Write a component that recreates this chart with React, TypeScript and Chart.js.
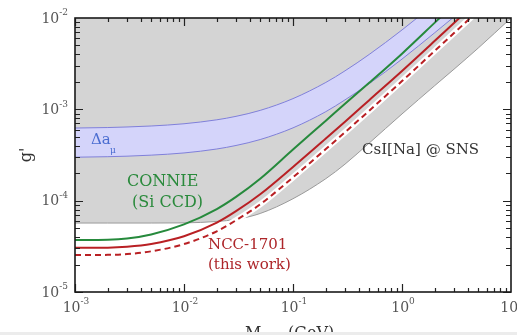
import { useEffect, useRef } from "react";
import { Chart, registerables } from "chart.js";

Chart.register(...registerables);

// Z' mass grid in GeV shared by every curve
const massGrid = [0.001, 0.002, 0.003, 0.005, 0.01, 0.02, 0.03, 0.05, 0.1, 0.2, 0.3, 0.5, 1, 2, 3, 5, 10];

// coupling g' bounds at each mass of massGrid
const csiSnsLimit = [5.69e-5, 5.69e-5, 5.69e-5, 5.69e-5, 5.71e-5, 5.92e-5, 6.24e-5, 7.24e-5, 1.05e-4, 1.74e-4, 2.51e-4, 4.27e-4, 8.9e-4, 1.82e-3, 2.75e-3, 4.68e-3, 1.0e-2];
const deltaAmuUpper = [6.24e-4, 6.32e-4, 6.41e-4, 6.57e-4, 6.95e-4, 7.68e-4, 8.38e-4, 9.74e-4, 1.31e-3, 1.97e-3, 2.64e-3, 3.99e-3, 7.4e-3, 1.44e-2, 2.15e-2];
const deltaAmuLower = [2.99e-4, 3.03e-4, 3.07e-4, 3.15e-4, 3.33e-4, 3.68e-4, 4.02e-4, 4.67e-4, 6.27e-4, 9.43e-4, 1.27e-3, 1.91e-3, 3.55e-3, 6.91e-3, 1.03e-2];
const connieLimit = [3.7e-5, 3.73e-5, 3.85e-5, 4.27e-5, 5.5e-5, 8.1e-5, 1.1e-4, 1.74e-4, 3.63e-4, 7.5e-4, 1.15e-3, 1.95e-3, 4.07e-3, 8.9e-3, 1.41e-2];
const ncc1701Limit = [3.05e-5, 3.06e-5, 3.13e-5, 3.35e-5, 4.07e-5, 5.75e-5, 7.67e-5, 1.175e-4, 2.34e-4, 4.79e-4, 7.33e-4, 1.26e-3, 2.63e-3, 5.62e-3, 8.81e-3, 1.55e-2];
const ncc1701Projected = [2.54e-5, 2.55e-5, 2.6e-5, 2.79e-5, 3.35e-5, 4.62e-5, 6.1e-5, 9.12e-5, 1.8e-4, 3.67e-4, 5.62e-4, 9.66e-4, 2.04e-3, 4.37e-3, 6.84e-3, 1.2e-2];

// decade exponents used for ticks and tick labels
const xDecades = [-3, -2, -1, 0, 1];
const yDecades = [-5, -4, -3, -2];

const SERIF = '"DejaVu Serif", serif';

const toPoints = (values: number[]) => values.map((g, i) => ({ x: massGrid[i], y: g }));

function drawPower(ctx: CanvasRenderingContext2D, exp: number, x: number, y: number, align: "center" | "right") {
  const base = "10";
  const sup = String(exp);
  ctx.font = `14px ${SERIF}`;
  const wb = ctx.measureText(base).width;
  ctx.font = `9px ${SERIF}`;
  const we = ctx.measureText(sup).width;
  const total = wb + we;
  const start = align === "center" ? x - total / 2 : x - total;
  ctx.textAlign = "left";
  ctx.textBaseline = "middle";
  ctx.font = `14px ${SERIF}`;
  ctx.fillText(base, start, y);
  ctx.font = `9px ${SERIF}`;
  ctx.fillText(sup, start + wb, y - 6);
}

const frameAndLabels = {
  id: "frameAndLabels",
  afterDraw(chart: any) {
    const { ctx, chartArea: a, scales } = chart;
    const xs = scales.x;
    const ys = scales.y;
    ctx.save();

    // inward ticks on all four sides
    ctx.strokeStyle = "#222";
    ctx.lineWidth = 1.2;
    ctx.beginPath();
    for (let i = 0; i < xDecades.length - 1; i++) {
      for (let m = 1; m <= 9; m++) {
        const px = Math.round(xs.getPixelForValue(m * Math.pow(10, xDecades[i]))) + 0.5;
        const len = m === 1 ? 8 : 4;
        ctx.moveTo(px, a.bottom);
        ctx.lineTo(px, a.bottom - len);
        ctx.moveTo(px, a.top);
        ctx.lineTo(px, a.top + len);
      }
    }
    for (let i = 0; i < yDecades.length - 1; i++) {
      for (let m = 1; m <= 9; m++) {
        const py = Math.round(ys.getPixelForValue(m * Math.pow(10, yDecades[i]))) + 0.5;
        const len = m === 1 ? 8 : 5;
        ctx.moveTo(a.left, py);
        ctx.lineTo(a.left + len, py);
        ctx.moveTo(a.right, py);
        ctx.lineTo(a.right - len, py);
      }
    }
    ctx.stroke();

    // plot frame
    ctx.lineWidth = 1.6;
    ctx.strokeStyle = "#1a1a1a";
    ctx.strokeRect(a.left, a.top, a.right - a.left, a.bottom - a.top);

    // tick labels
    ctx.fillStyle = "#555";
    for (const e of xDecades) {
      drawPower(ctx, e, xs.getPixelForValue(Math.pow(10, e)) + 1, a.bottom + 16, "center");
    }
    for (const e of yDecades) {
      drawPower(ctx, e, a.left - 7, ys.getPixelForValue(Math.pow(10, e)) + 1, "right");
    }

    // axis titles
    ctx.fillStyle = "#333";
    ctx.textAlign = "left";
    ctx.textBaseline = "alphabetic";
    ctx.font = `16px ${SERIF}`;
    ctx.fillText("M", 245, 338);
    ctx.font = `10px ${SERIF}`;
    ctx.fillText("Z'", 262, 342);
    ctx.font = `16px ${SERIF}`;
    ctx.fillText("(GeV)", 288, 338);

    ctx.save();
    ctx.translate(27, 155);
    ctx.rotate(-Math.PI / 2);
    ctx.textAlign = "center";
    ctx.textBaseline = "middle";
    ctx.font = `16px ${SERIF}`;
    ctx.fillText("g'", 0, 0);
    ctx.restore();

    // curve annotations
    ctx.textAlign = "left";
    ctx.textBaseline = "middle";
    ctx.fillStyle = "#4a6cd0";
    ctx.font = `15px ${SERIF}`;
    ctx.fillText("Δa", 91, 140);
    ctx.font = `9px ${SERIF}`;
    ctx.fillText("μ", 110, 151);

    ctx.fillStyle = "#2a8a3c";
    ctx.font = `16px ${SERIF}`;
    ctx.fillText("CONNIE", 127, 182);
    ctx.fillText("(Si CCD)", 132, 203);

    ctx.fillStyle = "#333";
    ctx.font = `15px ${SERIF}`;
    ctx.fillText("CsI[Na] @ SNS", 362, 150);

    ctx.fillStyle = "#ad2529";
    ctx.font = `15px ${SERIF}`;
    ctx.fillText("NCC-1701", 208, 245);
    ctx.fillText("(this work)", 208, 265);

    // light strip along the bottom edge
    ctx.fillStyle = "#ececec";
    ctx.fillRect(0, 332, chart.width, 3);

    ctx.restore();
  },
};

export default function App() {
  const ref = useRef<HTMLCanvasElement>(null);

  useEffect(() => {
    const canvas = ref.current;
    if (!canvas) return;
    const chart = new Chart(canvas, {
      type: "line",
      data: {
        datasets: [
          {
            label: "CsI[Na] @ SNS",
            data: toPoints(csiSnsLimit),
            borderColor: "#9a9a9a",
            borderWidth: 1,
            backgroundColor: "#d4d4d4",
            fill: "end",
            order: 7,
          },
          {
            label: "Δaμ upper",
            data: toPoints(deltaAmuUpper),
            borderColor: "rgb(128,128,218)",
            borderWidth: 1,
            backgroundColor: "rgb(212,212,250)",
            fill: "+1",
            order: 6,
          },
          {
            label: "Δaμ lower",
            data: toPoints(deltaAmuLower),
            borderColor: "rgb(128,128,218)",
            borderWidth: 1,
            fill: false,
            order: 5,
          },
          {
            label: "CONNIE (Si CCD)",
            data: toPoints(connieLimit),
            borderColor: "rgb(38,138,60)",
            borderWidth: 2,
            fill: false,
            order: 4,
          },
          {
            label: "NCC-1701 projected backing",
            data: toPoints(ncc1701Projected),
            borderColor: "#ffffff",
            borderWidth: 6,
            fill: false,
            order: 3,
          },
          {
            label: "NCC-1701 projected",
            data: toPoints(ncc1701Projected),
            borderColor: "rgb(185,32,36)",
            borderWidth: 2,
            borderDash: [6, 4],
            fill: false,
            order: 2,
          },
          {
            label: "NCC-1701 (this work)",
            data: toPoints(ncc1701Limit),
            borderColor: "rgb(185,32,36)",
            borderWidth: 2,
            fill: false,
            order: 1,
          },
        ],
      },
      options: {
        responsive: false,
        animation: false,
        devicePixelRatio: 1,
        layout: { padding: { left: 75, right: 6, top: 18, bottom: 43 } },
        plugins: { legend: { display: false }, tooltip: { enabled: false } },
        elements: {
          point: { radius: 0 },
          line: { cubicInterpolationMode: "monotone" },
        },
        scales: {
          x: { type: "logarithmic", min: 1e-3, max: 10, display: false },
          y: { type: "logarithmic", min: 1e-5, max: 1e-2, display: false },
        },
      },
      plugins: [frameAndLabels],
    });
    return () => chart.destroy();
  }, []);

  return (
    <div style={{ position: "fixed", left: 0, top: 0, width: 517, height: 335, background: "#fff" }}>
      <canvas ref={ref} width={517} height={335} style={{ display: "block", width: 517, height: 335 }} />
    </div>
  );
}
